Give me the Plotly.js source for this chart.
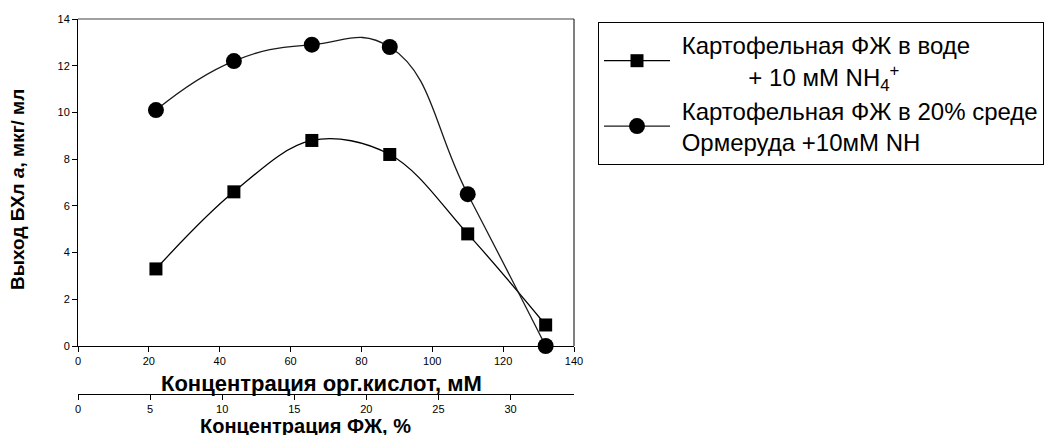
<!DOCTYPE html>
<html>
<head>
<meta charset="utf-8">
<script src="https://cdn.plot.ly/plotly-3.0.1.min.js"></script>
<style>html,body{margin:0;padding:0;background:#fff;}#chart{width:1057px;height:435px;}</style>
</head>
<body>
<div id="chart"></div>
<script>
// Data
const concOrgAcid = [22, 44, 66, 88, 110, 132];            // mM
const yieldWater = [3.3, 6.6, 8.8, 8.2, 4.8, 0.9];          // squares
const yieldOrmeruda = [10.1, 12.2, 12.9, 12.8, 6.5, 0.0];   // circles
const xTicksAcid = [0, 20, 40, 60, 80, 100, 120, 140];
const xTicksFZh = [0, 5, 10, 15, 20, 25, 30];
const yTicks = [0, 2, 4, 6, 8, 10, 12, 14];
const NB = "\u00A0";
const nameWater = NB + "Картофельная ФЖ в воде<br>" + NB.repeat(11) + "+ 10 мМ NH<sub>4</sub><sup>+</sup>";
const nameOrmeruda = NB + "Картофельная ФЖ в 20% среде<br>" + NB + "Ормеруда +10мМ NH";
const xTitleAcid = "Концентрация орг.кислот, мМ";
const xTitleFZh = "Концентрация ФЖ, %";
const yTitle = "Выход БХл <i>a</i>, мкг/ мл";

const FONT = "Liberation Sans, Arial, sans-serif";

const traces = [
  {
    x: concOrgAcid, y: yieldWater, name: nameWater,
    type: 'scatter', mode: 'lines+markers',
    line: {shape: 'spline', smoothing: 1, color: '#000', width: 1.3},
    marker: {symbol: 'square', size: 13, color: '#000'},
    cliponaxis: false
  },
  {
    x: concOrgAcid, y: yieldOrmeruda, name: nameOrmeruda,
    type: 'scatter', mode: 'lines+markers',
    line: {shape: 'spline', smoothing: 1.3, color: '#1a1a1a', width: 1.3},
    marker: {symbol: 'circle', size: 16, color: '#000'},
    cliponaxis: false
  },
  {
    x: [], y: [], xaxis: 'x2', yaxis: 'y', showlegend: false, hoverinfo: 'skip',
    type: 'scatter', mode: 'markers'
  }
];

const plotBottomPx = 394, topPx = 19, H = 435;
const paperH = H - topPx - (H - plotBottomPx);
const yDomStart = (plotBottomPx - 346) / paperH;

const axisCommon = {
  showgrid: false, zeroline: false, showline: true, linecolor: '#000', linewidth: 1,
  ticks: 'outside', ticklen: 5, tickcolor: '#000', tickwidth: 1,
  tickfont: {family: FONT, size: 11, color: '#000'}
};

const layout = {
  width: 1057, height: 435,
  margin: {l: 78, r: 483, t: topPx, b: H - plotBottomPx},
  paper_bgcolor: '#fff', plot_bgcolor: '#fff',
  font: {family: FONT, color: '#000'},
  showlegend: true,
  legend: {
    x: (598 - 78) / 496, y: (plotBottomPx - 22) / paperH, xanchor: 'left', yanchor: 'top',
    bordercolor: '#000', borderwidth: 1, bgcolor: '#fff',
    font: {family: FONT, size: 24, color: '#000'},
    itemwidth: 66, tracegroupgap: 4
  },
  xaxis: Object.assign({}, axisCommon, {
    range: [0, 140], tickvals: xTicksAcid, anchor: 'y', domain: [0, 1]
  }),
  xaxis2: Object.assign({}, axisCommon, {
    range: [0, 34.4], tickvals: xTicksFZh, overlaying: 'x', anchor: 'free', position: 0,
    side: 'bottom'
  }),
  yaxis: Object.assign({}, axisCommon, {
    range: [0, 14], tickvals: yTicks, domain: [yDomStart, 1]
  }),
  shapes: [
    {type: 'line', xref: 'paper', yref: 'paper', x0: 0, x1: 1, y0: 1, y1: 1,
     line: {color: '#808080', width: 1.5}},
    {type: 'line', xref: 'paper', yref: 'paper', x0: 1, x1: 1, y0: yDomStart, y1: 1,
     line: {color: '#000', width: 1}}
  ],
  annotations: [
    {text: '<b>' + xTitleAcid + '</b>', xref: 'paper', yref: 'paper',
     x: (321 - 78) / 496, y: (plotBottomPx - 383) / paperH, xanchor: 'center', yanchor: 'middle',
     showarrow: false, font: {family: FONT, size: 22, color: '#000'}},
    {text: '<b>' + xTitleFZh + '</b>', xref: 'paper', yref: 'paper',
     x: (305 - 78) / 496, y: (plotBottomPx - 426) / paperH, xanchor: 'center', yanchor: 'middle',
     showarrow: false, font: {family: FONT, size: 20, color: '#000'}},
    {text: '<b>' + yTitle + '</b>', xref: 'paper', yref: 'paper', textangle: -90,
     x: (18 - 78) / 496, y: (plotBottomPx - 190) / paperH, xanchor: 'center', yanchor: 'middle',
     showarrow: false, font: {family: FONT, size: 19, color: '#000'}}
  ]
};

Plotly.newPlot('chart', traces, layout, {staticPlot: true, displayModeBar: false});
</script>
</body>
</html>
